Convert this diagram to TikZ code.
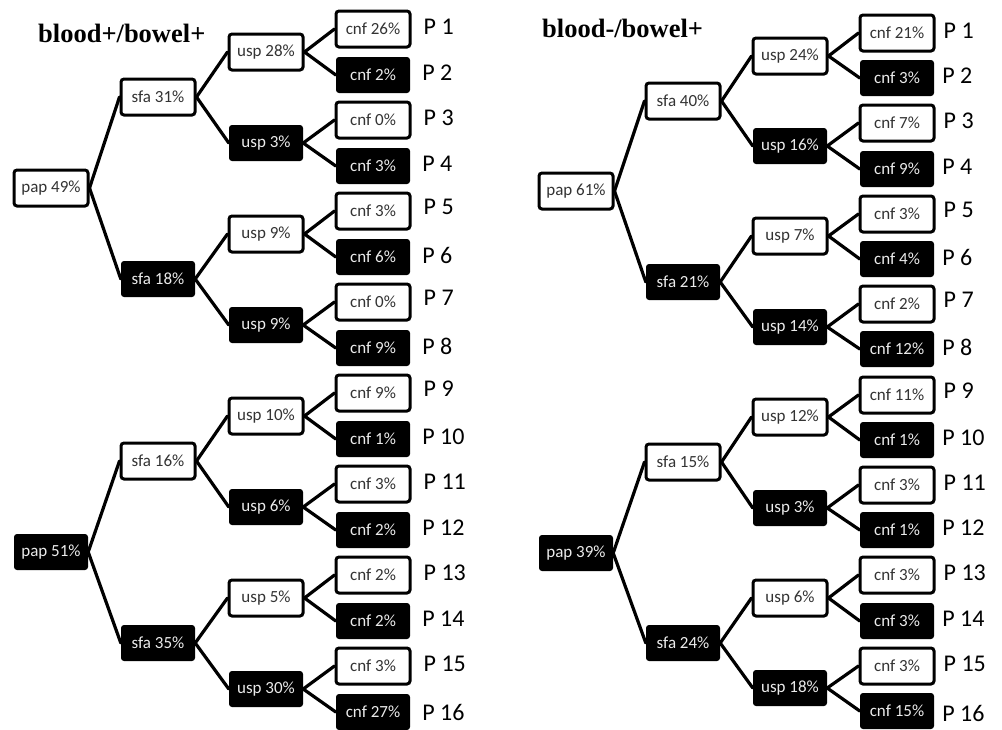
\documentclass[tikz,border=0pt]{standalone}
\usepackage{fontspec}
\setmainfont{Liberation Serif}
\newfontfamily\boxfont{Carlito}
\usetikzlibrary{positioning}
\newcommand{\branch}[3]{%
  \draw[link] (#1.east) -- (#2.west);
  \draw[link] (#1.east) -- (#3.west)}

\begin{document}
\begin{tikzpicture}[x=1pt, y=-1pt,
    box/.style={rectangle, rounded corners=3pt, minimum width=74pt,
      minimum height=36pt, inner sep=1pt,
      font=\boxfont\fontsize{17}{17}\selectfont},
    yes/.style={box, draw=black, line width=3pt, fill=white, text=black!80},
    no/.style={box, fill=black, text=white!92!black},
    link/.style={line width=3.2pt, line cap=round},
    plabel/.style={inner sep=0pt, font=\boxfont\fontsize{24}{24}\selectfont},
    title/.style={font=\bfseries\fontsize{26.5}{26.5}\selectfont, inner sep=0pt}]
  \useasboundingbox (0,0) rectangle (1002,729);

  % blood+/bowel+
  \node[title, anchor=base west] (titleA) at (38,42) {blood+/bowel+};
  \node[yes] (pa1) at (51,188) {pap 49\%};
  \node[no]  (pa2) at (51,552) {pap 51\%};

  \node[yes] (sa1) at (158,97) {sfa 31\%};
  \node[no]  (sa2) at (158,279) {sfa 18\%};
  \node[yes] (sa3) at (158,461) {sfa 16\%};
  \node[no]  (sa4) at (158,643) {sfa 35\%};

  \node[yes] (ua1) at (266,52) {usp 28\%};
  \node[no]  (ua2) at (266,143) {usp 3\%};
  \node[yes] (ua3) at (266,234) {usp 9\%};
  \node[no]  (ua4) at (266,325) {usp 9\%};
  \node[yes] (ua5) at (266,416) {usp 10\%};
  \node[no]  (ua6) at (266,507) {usp 6\%};
  \node[yes] (ua7) at (266,598) {usp 5\%};
  \node[no]  (ua8) at (266,689) {usp 30\%};

  \node[yes] (ca1) at (373,29) {cnf 26\%};
  \node[no]  (ca2) at (373,75) {cnf 2\%};
  \node[yes] (ca3) at (373,120) {cnf 0\%};
  \node[no]  (ca4) at (373,166) {cnf 3\%};
  \node[yes] (ca5) at (373,211) {cnf 3\%};
  \node[no]  (ca6) at (373,257) {cnf 6\%};
  \node[yes] (ca7) at (373,302) {cnf 0\%};
  \node[no]  (ca8) at (373,348) {cnf 9\%};
  \node[yes] (ca9) at (373,393) {cnf 9\%};
  \node[no]  (ca10) at (373,439) {cnf 1\%};
  \node[yes] (ca11) at (373,484) {cnf 3\%};
  \node[no]  (ca12) at (373,530) {cnf 2\%};
  \node[yes] (ca13) at (373,575) {cnf 2\%};
  \node[no]  (ca14) at (373,621) {cnf 2\%};
  \node[yes] (ca15) at (373,666) {cnf 3\%};
  \node[no]  (ca16) at (373,712) {cnf 27\%};

  \node[plabel, right=12pt of ca1, yshift=2pt] (la1) {P 1};
  \node[plabel, right=12pt of ca2, yshift=2pt] (la2) {P 2};
  \node[plabel, right=12pt of ca3, yshift=2pt] (la3) {P 3};
  \node[plabel, right=12pt of ca4, yshift=2pt] (la4) {P 4};
  \node[plabel, right=12pt of ca5, yshift=4pt] (la5) {P 5};
  \node[plabel, right=12pt of ca6, yshift=2pt] (la6) {P 6};
  \node[plabel, right=12pt of ca7, yshift=4pt] (la7) {P 7};
  \node[plabel, right=12pt of ca8, yshift=2pt] (la8) {P 8};
  \node[plabel, right=12pt of ca9, yshift=4pt] (la9) {P 9};
  \node[plabel, right=12pt of ca10, yshift=2pt] (la10) {P 10};
  \node[plabel, right=12pt of ca11, yshift=2pt] (la11) {P 11};
  \node[plabel, right=12pt of ca12, yshift=2pt] (la12) {P 12};
  \node[plabel, right=12pt of ca13, yshift=2pt] (la13) {P 13};
  \node[plabel, right=12pt of ca14, yshift=2pt] (la14) {P 14};
  \node[plabel, right=12pt of ca15, yshift=2pt] (la15) {P 15};
  \node[plabel, right=12pt of ca16, yshift=0pt] (la16) {P 16};

  \branch{pa1}{sa1}{sa2};
  \branch{pa2}{sa3}{sa4};
  \branch{sa1}{ua1}{ua2};
  \branch{sa2}{ua3}{ua4};
  \branch{sa3}{ua5}{ua6};
  \branch{sa4}{ua7}{ua8};
  \branch{ua1}{ca1}{ca2};
  \branch{ua2}{ca3}{ca4};
  \branch{ua3}{ca5}{ca6};
  \branch{ua4}{ca7}{ca8};
  \branch{ua5}{ca9}{ca10};
  \branch{ua6}{ca11}{ca12};
  \branch{ua7}{ca13}{ca14};
  \branch{ua8}{ca15}{ca16};

  % blood-/bowel+
  \node[title, anchor=base west] (titleB) at (542,37) {blood-/bowel+};
  \node[yes] (pb1) at (576,191) {pap 61\%};
  \node[no]  (pb2) at (576,553) {pap 39\%};

  \node[yes] (sb1) at (683,101) {sfa 40\%};
  \node[no]  (sb2) at (683,282) {sfa 21\%};
  \node[yes] (sb3) at (683,462) {sfa 15\%};
  \node[no]  (sb4) at (683,643) {sfa 24\%};

  \node[yes] (ub1) at (790,56) {usp 24\%};
  \node[no]  (ub2) at (790,146) {usp 16\%};
  \node[yes] (ub3) at (790,236) {usp 7\%};
  \node[no]  (ub4) at (790,327) {usp 14\%};
  \node[yes] (ub5) at (790,417) {usp 12\%};
  \node[no]  (ub6) at (790,508) {usp 3\%};
  \node[yes] (ub7) at (790,598) {usp 6\%};
  \node[no]  (ub8) at (790,688) {usp 18\%};

  \node[yes] (cb1) at (897,33) {cnf 21\%};
  \node[no]  (cb2) at (897,78) {cnf 3\%};
  \node[yes] (cb3) at (897,123) {cnf 7\%};
  \node[no]  (cb4) at (897,169) {cnf 9\%};
  \node[yes] (cb5) at (897,214) {cnf 3\%};
  \node[no]  (cb6) at (897,259) {cnf 4\%};
  \node[yes] (cb7) at (897,304) {cnf 2\%};
  \node[no]  (cb8) at (897,349) {cnf 12\%};
  \node[yes] (cb9) at (897,395) {cnf 11\%};
  \node[no]  (cb10) at (897,440) {cnf 1\%};
  \node[yes] (cb11) at (897,485) {cnf 3\%};
  \node[no]  (cb12) at (897,530) {cnf 1\%};
  \node[yes] (cb13) at (897,575) {cnf 3\%};
  \node[no]  (cb14) at (897,621) {cnf 3\%};
  \node[yes] (cb15) at (897,666) {cnf 3\%};
  \node[no]  (cb16) at (897,711) {cnf 15\%};

  \node[plabel, right=8pt of cb1, yshift=2pt] (lb1) {P 1};
  \node[plabel, right=8pt of cb2, yshift=2pt] (lb2) {P 2};
  \node[plabel, right=8pt of cb3, yshift=2pt] (lb3) {P 3};
  \node[plabel, right=8pt of cb4, yshift=2pt] (lb4) {P 4};
  \node[plabel, right=8pt of cb5, yshift=4pt] (lb5) {P 5};
  \node[plabel, right=8pt of cb6, yshift=2pt] (lb6) {P 6};
  \node[plabel, right=8pt of cb7, yshift=4pt] (lb7) {P 7};
  \node[plabel, right=8pt of cb8, yshift=2pt] (lb8) {P 8};
  \node[plabel, right=8pt of cb9, yshift=4pt] (lb9) {P 9};
  \node[plabel, right=8pt of cb10, yshift=2pt] (lb10) {P 10};
  \node[plabel, right=8pt of cb11, yshift=2pt] (lb11) {P 11};
  \node[plabel, right=8pt of cb12, yshift=2pt] (lb12) {P 12};
  \node[plabel, right=8pt of cb13, yshift=2pt] (lb13) {P 13};
  \node[plabel, right=8pt of cb14, yshift=2pt] (lb14) {P 14};
  \node[plabel, right=8pt of cb15, yshift=2pt] (lb15) {P 15};
  \node[plabel, right=8pt of cb16, yshift=-2pt] (lb16) {P 16};

  \branch{pb1}{sb1}{sb2};
  \branch{pb2}{sb3}{sb4};
  \branch{sb1}{ub1}{ub2};
  \branch{sb2}{ub3}{ub4};
  \branch{sb3}{ub5}{ub6};
  \branch{sb4}{ub7}{ub8};
  \branch{ub1}{cb1}{cb2};
  \branch{ub2}{cb3}{cb4};
  \branch{ub3}{cb5}{cb6};
  \branch{ub4}{cb7}{cb8};
  \branch{ub5}{cb9}{cb10};
  \branch{ub6}{cb11}{cb12};
  \branch{ub7}{cb13}{cb14};
  \branch{ub8}{cb15}{cb16};
\end{tikzpicture}
\end{document}
